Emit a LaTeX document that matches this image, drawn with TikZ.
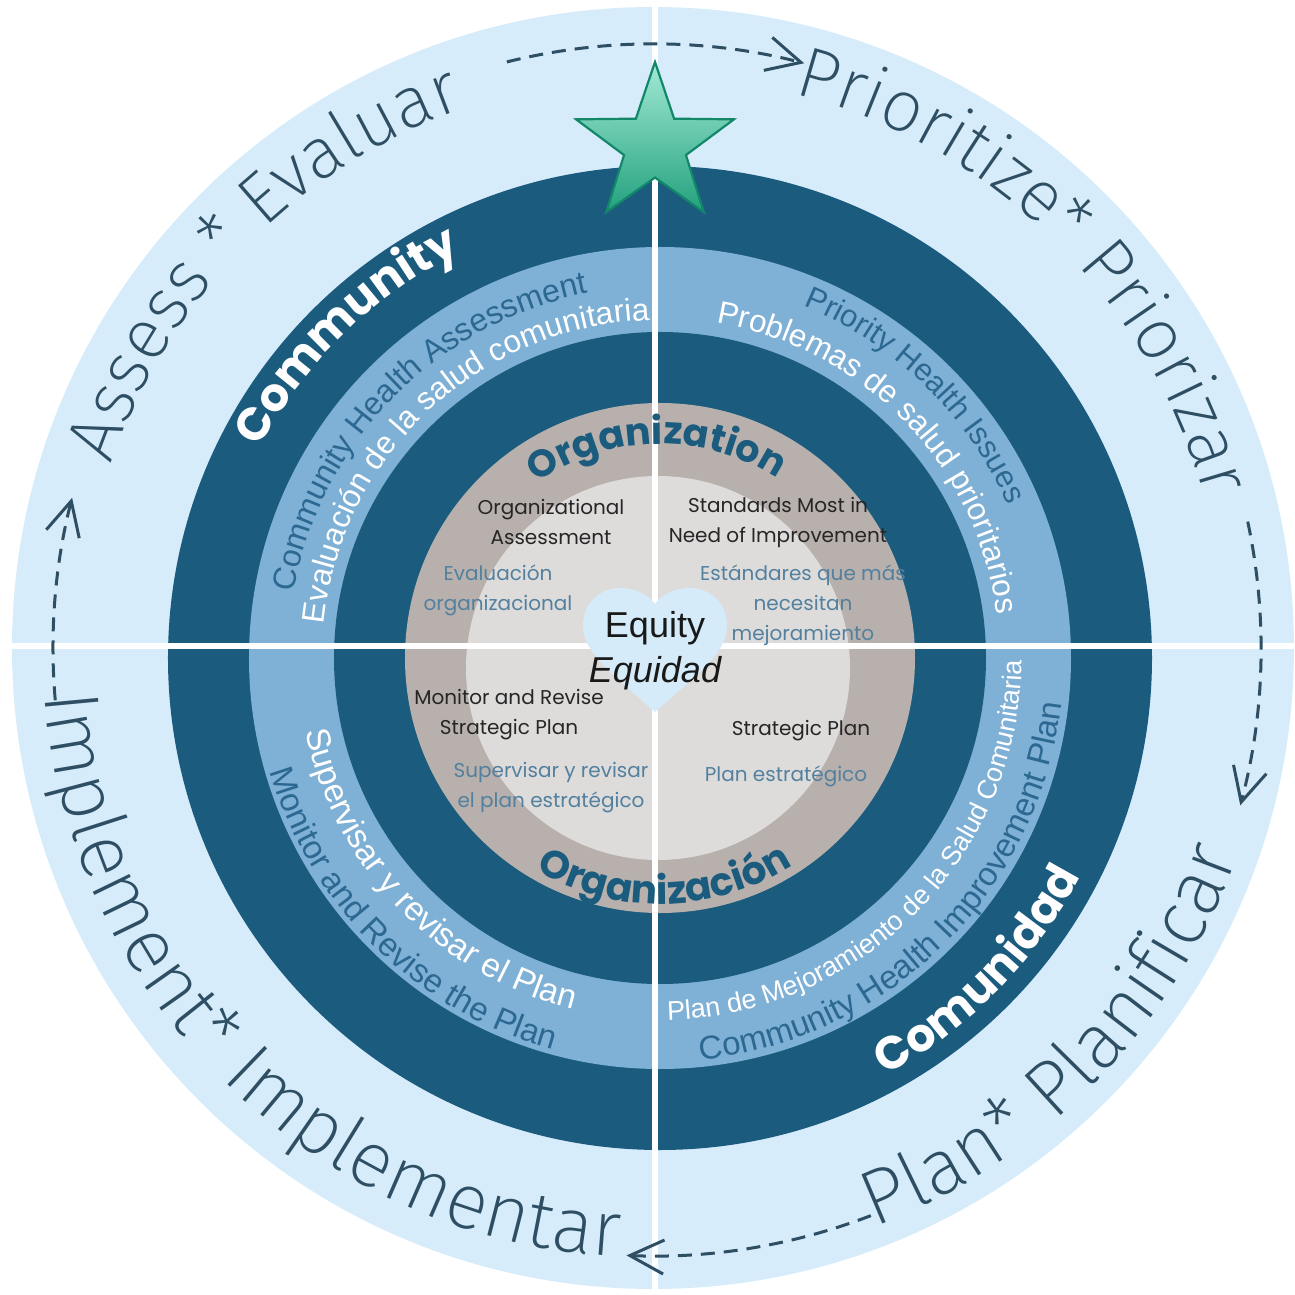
\documentclass[tikz,border=0pt]{standalone}
\usepackage{fontspec}
\usetikzlibrary{arrows.meta, shapes.geometric, decorations.text}
\newfontfamily\thinfont{Fira Sans ExtraLight}
\newfontfamily\ringfont{Liberation Sans}
\newfontfamily\roundfont{Poppins}
\newcommand\phasesize[1]{\thinfont\fontsize{#1}{#1}\selectfont}
\newcommand\ringsize[1]{\ringfont\fontsize{#1}{#1}\selectfont}
\newcommand\heavysize[1]{\roundfont\bfseries\fontsize{#1}{#1}\selectfont}
\definecolor{skyring}{HTML}{D7ECFA}
\definecolor{deepring}{HTML}{1A5B7E}
\definecolor{midring}{HTML}{7FB0D6}
\definecolor{stonering}{HTML}{B8B0AC}
\definecolor{paledisc}{HTML}{DEDCDB}
\definecolor{heartblue}{HTML}{D5EBF9}
\definecolor{phaseink}{HTML}{2E4E63}
\definecolor{ringink}{HTML}{2C6891}
\definecolor{spanishink}{HTML}{52809E}
\definecolor{starfill}{HTML}{A3EAD5}
\definecolor{stardeep}{HTML}{23A17E}
\definecolor{staredge}{HTML}{128769}

\begin{document}
\begin{tikzpicture}[
    x = 1pt, y = 1pt,
    ringword/.style 2 args = {decorate, decoration = {text along path,
        text align = center, text color = #1, text = {#2}}},
    cycleflow/.style = {draw = phaseink, line width = 3pt, dash pattern = on 14pt off 9pt,
        -{Straight Barb[length = 34pt, width = 34pt, line width = 3pt]}},
    divider/.style = {draw = white, line width = 6pt},
    engtext/.style = {align = center, text = black!85, font = \roundfont\fontsize{20}{30}\selectfont},
    estext/.style = {align = center, text = spanishink, font = \roundfont\fontsize{20}{30}\selectfont}
  ]
    \useasboundingbox (-655,-649) rectangle (639,646);
    \coordinate (rim) at (-2,-2);
    \coordinate (hub) at (5,-12);
    \coordinate (core) at (3,-22);

    % rings
    \fill[skyring] (rim) circle[radius = 641pt];
    \fill[deepring] (hub) circle[radius = 492pt];
    \fill[midring] (hub) circle[radius = 411pt];
    \fill[deepring] (hub) circle[radius = 326pt];
    \fill[stonering] (hub) circle[radius = 255pt];
    \fill[paledisc] (core) circle[radius = 192pt];

    \draw[divider] (0,-649) -- (0,646);
    \draw[divider] (-655,0) -- (639,0);

    % outer phases
    \path[ringword = {phaseink}{|\phasesize{72}|Assess * Evaluar}] (rim) ++(215.3:572pt) arc[start angle = 215.3, end angle = 55.3, radius = 572pt];
    \path[ringword = {phaseink}{|\phasesize{72}|Prioritize* Priorizar}] (rim) ++(125.5:572pt) arc[start angle = 125.5, end angle = -34.5, radius = 572pt];
    \path[ringword = {phaseink}{|\phasesize{78}|Plan* Planificar}] (rim) ++(235.7:620pt) arc[start angle = 235.7, end angle = 395.7, radius = 620pt];
    \path[ringword = {phaseink}{|\phasesize{78}|Implement* Implementar}] (rim) ++(145.6:610pt) arc[start angle = 145.6, end angle = 305.6, radius = 610pt];

    \draw[cycleflow, shift = {(rim)}] (104:604pt) arc[start angle = 104, end angle = 75.5, radius = 604pt];
    \draw[cycleflow, shift = {(rim)}] (12:608pt) arc[start angle = 12, end angle = -15, radius = 608pt];
    \draw[cycleflow, shift = {(rim)}] (291:608pt) arc[start angle = 291, end angle = 267.5, radius = 608pt];
    \draw[cycleflow, shift = {(rim)}] (185:600pt) arc[start angle = 185, end angle = 165.5, radius = 600pt];

    % community ring
    \path[ringword = {white}{|\heavysize{46}|Community}] (hub) ++(214.2:452pt) arc[start angle = 214.2, end angle = 54.2, radius = 452pt];
    \path[ringword = {white}{|\heavysize{46}|Comunidad}] (hub) ++(235.5:474pt) arc[start angle = 235.5, end angle = 395.5, radius = 474pt];

    \path[ringword = {ringink}{|\ringsize{32}|Community Health Assessment}] (hub) ++(215.5:372pt) arc[start angle = 215.5, end angle = 55.5, radius = 372pt];
    \path[ringword = {white}{|\ringsize{31.5}|Evaluación de la salud comunitaria}] (hub) ++(213:338pt) arc[start angle = 213, end angle = 53, radius = 338pt];
    \path[ringword = {ringink}{|\ringsize{31}|Priority Health Issues}] (hub) ++(125.8:380pt) arc[start angle = 125.8, end angle = -34.2, radius = 380pt];
    \path[ringword = {white}{|\ringsize{31.5}|Problemas de salud prioritarios}] (hub) ++(123.9:340pt) arc[start angle = 123.9, end angle = -36.1, radius = 340pt];
    \path[ringword = {ringink}{|\ringsize{33}|Community Health Improvement Plan}] (hub) ++(234.7:404pt) arc[start angle = 234.7, end angle = 394.7, radius = 404pt];
    \path[ringword = {white}{|\ringsize{27}|Plan de Mejoramiento de la Salud Comunitaria}] (hub) ++(235.4:362pt) arc[start angle = 235.4, end angle = 395.4, radius = 362pt];
    \path[ringword = {ringink}{|\ringsize{33}|Monitor and Revise the Plan}] (hub) ++(145.5:406pt) arc[start angle = 145.5, end angle = 305.5, radius = 406pt];
    \path[ringword = {white}{|\ringsize{33.5}|Supervisar y revisar el Plan}] (hub) ++(143.9:362pt) arc[start angle = 143.9, end angle = 303.9, radius = 362pt];

    % organization ring
    \path[ringword = {deepring}{|\heavysize{38}|Organization}] (hub) ++(171:214pt) arc[start angle = 171, end angle = 11, radius = 214pt];
    \path[ringword = {deepring}{|\heavysize{39}|Organización}] (hub) ++(191.2:246pt) arc[start angle = 191.2, end angle = 351.2, radius = 246pt];

    \node[engtext] (orgassess) at (-104,124) {Organizational\\Assessment};
    \node[estext] (orgeval) at (-157,56) {Evaluación\\organizacional};
    \node[engtext] (standards) at (123,124) {Standards Most in\\Need of Improvement};
    \node[estext] (estandares) at (148,41) {Estándares que más\\necesitan\\mejoramiento};
    \node[engtext] (monitor) at (-146,-69) {Monitor and Revise\\Strategic Plan};
    \node[estext] (supervisar) at (-104,-142) {Supervisar y revisar\\el plan estratégico};
    \node[engtext] (strategic) at (146,-85) {Strategic Plan};
    \node[estext] (planest) at (131,-130) {Plan estratégico};

    % equity heart
    \fill[heartblue] (0,-66) .. controls (-38,-32) and (-72,-8) .. (-72,20)
      .. controls (-72,46) and (-52,58) .. (-35,58)
      .. controls (-16,58) and (-4,48) .. (0,42)
      .. controls (4,48) and (16,58) .. (35,58)
      .. controls (52,58) and (72,46) .. (72,20)
      .. controls (72,-8) and (38,-32) .. (0,-66) -- cycle;
    \node[anchor = base, inner sep = 0pt, text = black!90, font = \ringsize{36}] (equity) at (0,8) {Equity};
    \node[anchor = base, inner sep = 0pt, text = black!90, font = \ringsize{36}\itshape] (equidad) at (0,-37) {Equidad};

    \node[star, star points = 5, star point ratio = 2.55, minimum size = 166pt, inner sep = 0pt,
      top color = starfill, bottom color = stardeep, draw = staredge, line width = 2.2pt] (badge) at (0,501) {};
  \end{tikzpicture}
\end{document}
